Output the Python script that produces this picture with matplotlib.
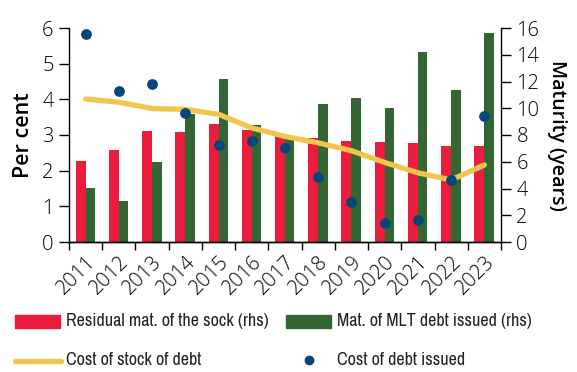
import matplotlib
matplotlib.use("Agg")
import matplotlib.pyplot as plt
import matplotlib.transforms as mtransforms
from matplotlib.patches import Rectangle
from matplotlib.lines import Line2D
import numpy as np

years = ["2011", "2012", "2013", "2014", "2015", "2016", "2017",
         "2018", "2019", "2020", "2021", "2022", "2023"]
residual_maturity = [6.05, 6.88, 8.3, 8.2, 8.82, 8.4, 7.92, 7.78, 7.55, 7.48, 7.4, 7.18, 7.18]
issued_maturity = [4.04, 3.07, 5.98, 9.6, 12.19, 8.72, 7.7, 10.32, 10.77, 10.02, 14.2, 11.36, 15.63]
cost_stock = [4.01, 3.92, 3.74, 3.72, 3.58, 3.2, 2.96, 2.78, 2.56, 2.23, 1.94, 1.74, 2.16]
cost_issued = [5.82, 4.23, 4.42, 3.63, 2.71, 2.82, 2.63, 1.82, 1.12, 0.53, 0.61, 1.73, 3.52]

legend_labels = ["Residual mat. of the sock (rhs)", "Mat. of MLT debt issued (rhs)",
                 "Cost of stock of debt", "Cost of debt issued"]

RED = "#EC1C3C"
GREEN = "#336633"
YELLOW = "#F2C64E"
BLUE = "#04477A"

plt.rcParams['font.family'] = ['Open Sans', 'DejaVu Sans']

fig = plt.figure(figsize=(5.77, 3.72), dpi=100)
ax = fig.add_axes([69/577, 1-242/372, (501-69)/577, (242-28)/372])
ax2 = ax.twinx()

x = np.arange(len(years))
w = 0.30
ax2.bar(x - w, residual_maturity, width=w, align='edge', color=RED, zorder=2)
ax2.bar(x, issued_maturity, width=0.285, align='edge', color=GREEN, zorder=2)

ax.plot(x, cost_stock, color=YELLOW, lw=3.8, solid_capstyle='round', solid_joinstyle='round', zorder=3)
ax.scatter(x, cost_issued, s=60, color=BLUE, zorder=4, linewidths=0)

ax.set_zorder(ax2.get_zorder() + 1)
ax.patch.set_visible(False)

ax.set_xlim(-0.5, len(years) - 0.5)
ax.set_ylim(0, 6)
ax2.set_ylim(0, 16)
ax.set_yticks(range(0, 7))
ax2.set_yticks(range(0, 17, 2))

ax.set_xticks(x)
ax.set_xticklabels(years, rotation=45, ha='right', rotation_mode='anchor', fontsize=14.5, fontweight='light')
offset = mtransforms.ScaledTranslation(8/100, 0, fig.dpi_scale_trans)
for lbl in ax.get_xticklabels():
    lbl.set_transform(lbl.get_transform() + offset)
ax.set_xticks(np.arange(-0.5, len(years), 1), minor=True)
ax.tick_params(axis='x', which='major', length=0, pad=7)
ax.tick_params(axis='x', which='minor', length=6, width=1, direction='out')

ax.tick_params(axis='y', length=7, width=1, labelsize=14.5, pad=4)
ax2.tick_params(axis='y', length=7, width=1, labelsize=14.5, pad=4)
for lbl in ax.get_yticklabels() + ax2.get_yticklabels():
    lbl.set_fontweight('light')

for a in (ax, ax2):
    a.spines['top'].set_visible(False)
    for s in ('left', 'right', 'bottom'):
        a.spines[s].set_linewidth(1)
ax.spines['right'].set_visible(False)
ax2.spines['left'].set_visible(False)

ax.set_ylabel("Per cent", fontsize=15.5, fontweight='semibold', labelpad=6)
ax2.set_ylabel("Maturity (years)", fontsize=14, fontweight='semibold', rotation=-90, labelpad=20)

# legend (figure coordinates, pixel-based)
def fx(px):
    return px / 577
def fy(py):
    return 1 - py / 372

leg_font = dict(fontsize=13, fontweight='normal',
                family=['Open Sans Condensed Light', 'Archivo Narrow', 'Open Sans', 'DejaVu Sans'],
                va='center', ha='left', color='#222222')
fig.add_artist(Rectangle((fx(15), fy(328)), fx(60) - fx(15), 13 / 372, transform=fig.transFigure, color=RED))
fig.text(fx(66), fy(321), legend_labels[0], **leg_font)
fig.add_artist(Rectangle((fx(286), fy(328)), fx(331) - fx(286), 13 / 372, transform=fig.transFigure, color=GREEN))
fig.text(fx(337), fy(321), legend_labels[1], **leg_font)
fig.add_artist(Line2D([fx(15), fx(61)], [fy(361), fy(361)], transform=fig.transFigure, color=YELLOW, lw=3.8, solid_capstyle='round'))
fig.text(fx(66), fy(360), legend_labels[2], **leg_font)
fig.add_artist(Line2D([fx(309)], [fy(360)], transform=fig.transFigure, marker='o', markersize=6, color=BLUE, lw=0))
fig.text(fx(337), fy(360), legend_labels[3], **leg_font)

fig.savefig("out.png", dpi=100)
